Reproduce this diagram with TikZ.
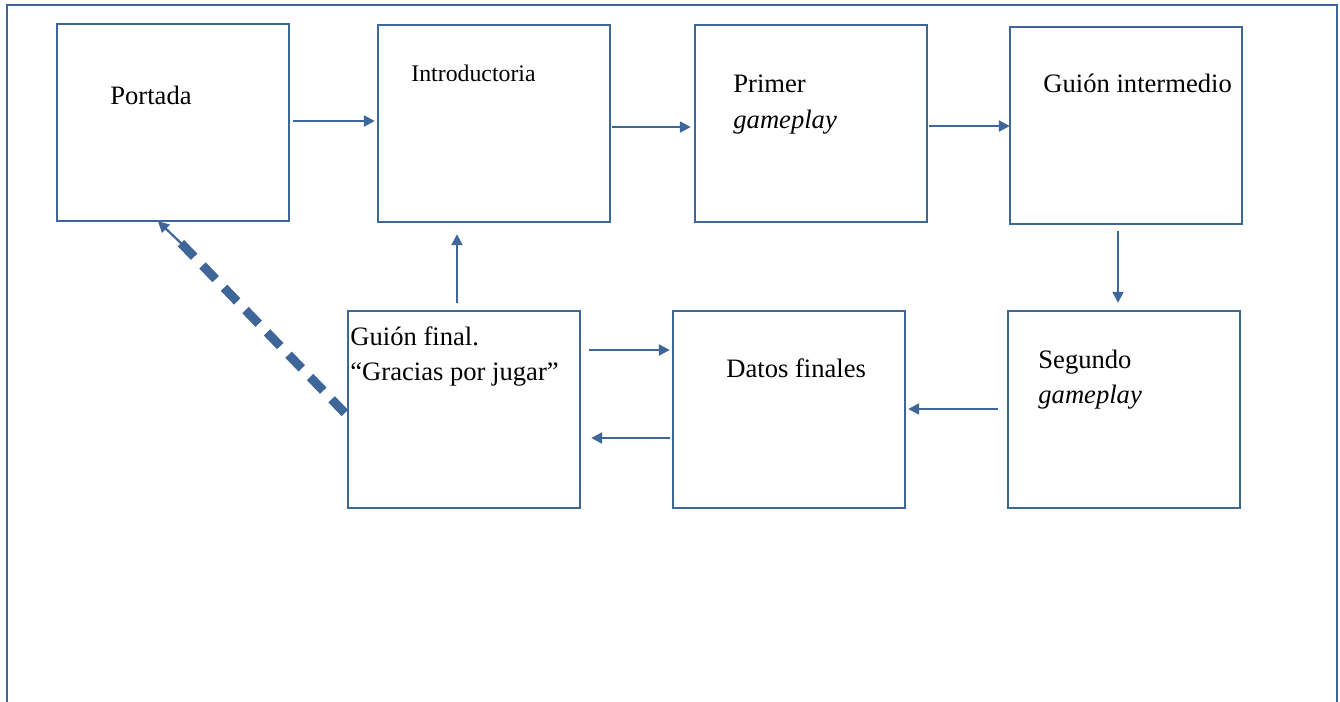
\documentclass[tikz,border=0pt]{standalone}
\usepackage{fontspec}
\setmainfont{Liberation Serif}
\usetikzlibrary{arrows.meta}
\definecolor{frameblue}{RGB}{62,102,152}
\tikzset{
  box/.style={draw=frameblue, line width=1.2pt, minimum width=116pt, minimum height=98.5pt, inner sep=0pt},
  txt/.style={anchor=base west, inner sep=0pt, font=\fontsize{13.3pt}{16pt}\selectfont},
  smalltxt/.style={anchor=base west, inner sep=0pt, font=\fontsize{11.9pt}{14pt}\selectfont},
  arr/.style={draw=frameblue, line width=1.1pt, -{Triangle[length=5.5pt,width=5.5pt]}},
  dashline/.style={draw=frameblue, line width=4.5pt, dash pattern=on 9.5pt off 6pt},
}
\begin{document}
\begin{tikzpicture}[x=0.5pt, y=-0.5pt]
\useasboundingbox (0,0) rectangle (1340,702);
\draw[frameblue, line width=1.3pt] (7,720) -- (7,5) -- (1337,5) -- (1337,720);
% boxes
\node[box] (portada) at (173,122.5) {};
\node[box] (intro)   at (494,123.5) {};
\node[box] (primer)  at (811,123.5) {};
\node[box] (gint)    at (1126,125.5) {};
\node[box] (gfin)    at (464,409.5) {};
\node[box] (datos)   at (789,409.5) {};
\node[box] (segundo) at (1124,409.5) {};
% texts
\node[txt] (tportada) at (110,104) {Portada};
\node[smalltxt] (tintro) at (411,81) {Introductoria};
\node[txt] (tprimer) at (733,92) {Primer};
\node[txt] (tprimer2) at (733,128) {\itshape gameplay};
\node[txt] (tgint) at (1043,92) {Guión intermedio};
\node[txt] (tgfin) at (350,345) {Guión final.};
\node[txt] (tgfin2) at (350,380) {“Gracias por jugar”};
\node[txt] (tdatos) at (726,377) {Datos finales};
\node[txt] (tseg) at (1038,368) {Segundo};
\node[txt] (tseg2) at (1038,403) {\itshape gameplay};
% arrows
\draw[arr] ([xshift=1.5pt]portada.east |- 0,121) -- ([xshift=-1pt]intro.west |- 0,121);
\draw[arr] ([xshift=0.5pt]intro.east |- 0,127) -- ([xshift=-1.5pt]primer.west |- 0,127);
\draw[arr] ([xshift=0.5pt]primer.east |- 0,126) -- ([xshift=0.5pt]gint.west |- 0,126);
\draw[arr] ([yshift=-3pt]gint.south -| 1118,0) -- ([yshift=3.5pt]segundo.north -| 1118,0);
\draw[arr] ([xshift=-4.5pt]segundo.west |- 0,409) -- ([xshift=1pt]datos.east |- 0,409);
\draw[arr] ([xshift=4pt]gfin.east |- 0,350) -- ([xshift=-1pt]datos.west |- 0,350);
\draw[arr] ([xshift=-1pt]datos.west |- 0,438) -- ([xshift=5pt]gfin.east |- 0,438);
\draw[arr] ([yshift=3.5pt]gfin.north -| 457,0) -- ([yshift=-5.5pt]intro.south -| 457,0);
% dashed return to Portada
\coordinate (dend) at (177,239);
\draw[arr] (184,246) -- ([xshift=-7.5pt,yshift=0.5pt]portada.south);
\draw[dashline] ([xshift=-1pt]gfin.west |- 0,413) -- (dend);
\end{tikzpicture}
\end{document}
